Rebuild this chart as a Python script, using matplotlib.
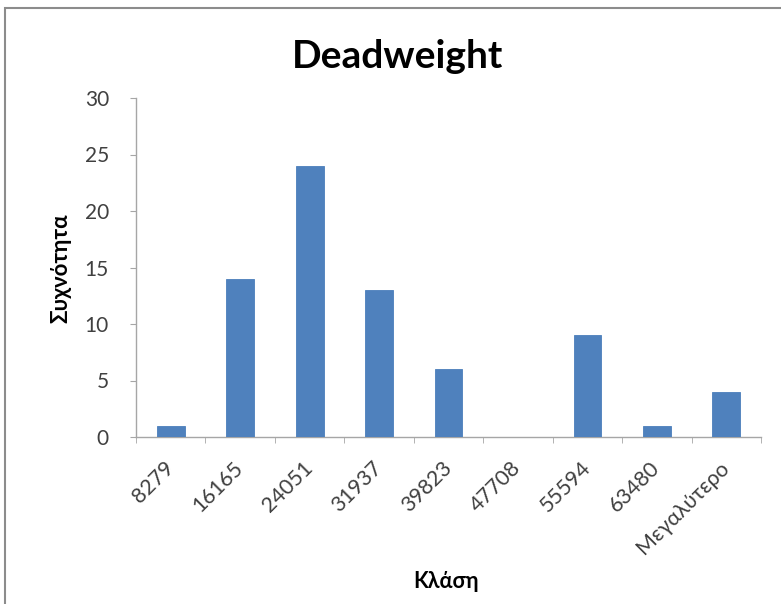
import matplotlib
matplotlib.use("Agg")
import matplotlib.pyplot as plt
from matplotlib.patches import Rectangle

plt.rcParams['font.family'] = ['Lato', 'Noto Sans', 'DejaVu Sans']

# histogram bins (upper limits) and counts
classes = ['8279', '16165', '24051', '31937', '39823', '47708',
           '55594', '63480', 'Μεγαλύτερο']
counts = [1, 14, 24, 13, 6, 0, 9, 1, 4]
yticks = [0, 5, 10, 15, 20, 25, 30]

W, H = 781, 604
fig = plt.figure(figsize=(W / 100, H / 100), dpi=100)
ax = fig.add_axes([136 / W, 1 - 437 / H, (761 - 136) / W, (437 - 98) / H])

pos = list(range(len(classes)))
ax.bar(pos, counts, width=0.4, color='#4F81BD', edgecolor='#4A7EBB',
       linewidth=0.6, zorder=3)

ax.set_xlim(-0.5, len(classes) - 0.5)
ax.set_ylim(0, 30)
ax.set_yticks(yticks)
ax.set_yticklabels([str(v) for v in yticks], fontsize=15, color='#404040')

# category labels between boundary ticks, as in Excel
ax.set_xticks(pos)
ax.set_xticklabels(classes, rotation=45, ha='right', va='center',
                   rotation_mode='anchor', fontsize=15.5, color='#404040')
ax.tick_params(axis='x', length=0, pad=20)
ax.set_xticks([p - 0.5 for p in pos] + [len(classes) - 0.5], minor=True)
ax.tick_params(axis='x', which='minor', length=4.5, color='#A6A6A6',
               direction='out')
ax.tick_params(axis='y', length=4.5, color='#A6A6A6', direction='out', pad=15)

for s in ['top', 'right']:
    ax.spines[s].set_visible(False)
for s in ['left', 'bottom']:
    ax.spines[s].set_color('#A6A6A6')
    ax.spines[s].set_linewidth(1.0)

ax.set_ylabel('Συχνότητα', fontsize=16, fontweight='bold')
ax.set_xlabel('Κλάση', fontsize=15.5, fontweight='bold')
ax.xaxis.set_label_coords((446 - 136) / (761 - 136), (437 - 571) / (437 - 98))
ax.yaxis.set_label_coords((71 - 136) / (761 - 136), (437 - 268) / (437 - 98))

fig.text(398 / W, 1 - 56 / H, 'Deadweight', fontsize=28, fontweight='bold',
         ha='center', va='center')

# chart area border (left and top edges visible)
fig.patches.append(Rectangle((5 / W, -0.1), 1.2, 1 - 8 / H + 0.1,
                             transform=fig.transFigure, fill=False,
                             edgecolor='#8C8C8C', linewidth=1.5))

fig.savefig('out.png', dpi=100)
